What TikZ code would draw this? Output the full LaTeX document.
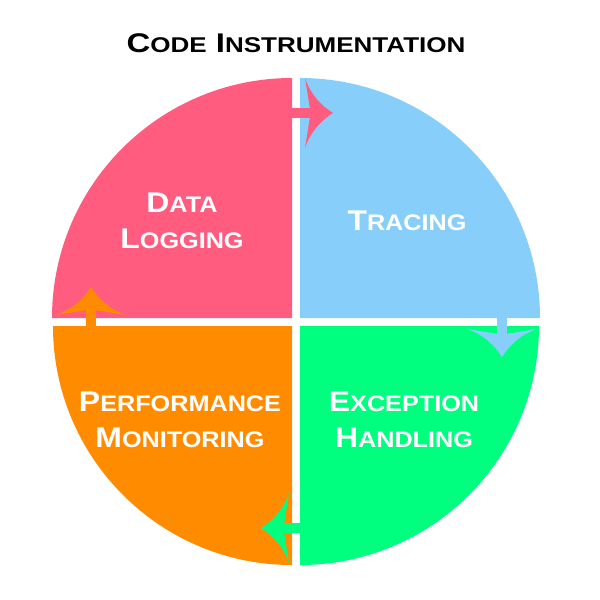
\documentclass[tikz,border=0pt]{standalone}
\usepackage{fontspec}
\usepackage{tikz}
\usetikzlibrary{arrows.meta}
\newfontfamily\diagfont{Liberation Sans}[FakeStretch=1.12]
\newfontfamily\titlefont{Liberation Sans}[FakeStretch=1.22]
\definecolor{pinkq}{HTML}{FF5C80}
\definecolor{blueq}{HTML}{87CEFA}
\definecolor{greenq}{HTML}{00FF7F}
\definecolor{orangeq}{HTML}{FF8C00}
\makeatletter
\newcommand\scword[2]{#1{\fontsize{\fpeval{0.79*\f@size}}{0}\selectfont #2}}
\makeatother
% swept head with hollow sides
\pgfdeclarearrow{
  name = Swoop,
  defaults = {length=28pt, width=70pt},
  setup code = {
    \pgfarrowssettipend{0pt}
    \pgfarrowssetbackend{-\pgfarrowlength}
    \pgfarrowssetlineend{-.7\pgfarrowlength}
    \pgfarrowssavethe\pgfarrowlength
    \pgfarrowssavethe\pgfarrowwidth
  },
  drawing code = {
    \pgfpathmoveto{\pgfqpoint{0pt}{0pt}}
    \pgfpathcurveto{\pgfqpoint{-.4\pgfarrowlength}{.1\pgfarrowwidth}}{\pgfqpoint{-.8\pgfarrowlength}{.26\pgfarrowwidth}}{\pgfqpoint{-\pgfarrowlength}{.5\pgfarrowwidth}}
    \pgfpathlineto{\pgfqpoint{-.8\pgfarrowlength}{0pt}}
    \pgfpathlineto{\pgfqpoint{-\pgfarrowlength}{-.5\pgfarrowwidth}}
    \pgfpathcurveto{\pgfqpoint{-.8\pgfarrowlength}{-.26\pgfarrowwidth}}{\pgfqpoint{-.4\pgfarrowlength}{-.1\pgfarrowwidth}}{\pgfqpoint{0pt}{0pt}}
    \pgfpathclose
    \pgfusepathqfill
  },
  parameters = {\the\pgfarrowlength,\the\pgfarrowwidth},
}
\tikzset{
  lbl/.style = {text=white, align=center, font=\diagfont\bfseries\fontsize{28.5}{36}\selectfont},
  flow/.style = {line width=10pt, -{Swoop}},
}

\begin{document}
\begin{tikzpicture}[yscale=-1]
			\useasboundingbox (0pt,0pt) rectangle (600pt,600pt);
			\node (title) at (296pt,43pt) {\titlefont\bfseries\fontsize{27}{30}\selectfont\scword{C}{ODE} \scword{I}{NSTRUMENTATION}};
			% quarters
			\fill[pinkq] (292pt,318pt) -- ++(-240pt,0pt) arc[start angle=180, end angle=270, radius=240pt] -- cycle;
			\fill[blueq] (300pt,318pt) -- ++(0pt,-240pt) arc[start angle=270, end angle=360, radius=240pt] -- cycle;
			\fill[greenq] (300pt,326pt) -- ++(239pt,0pt) arc[start angle=0, end angle=90, radius=239pt] -- cycle;
			\fill[orangeq] (292pt,326pt) -- ++(0pt,239pt) arc[start angle=90, end angle=180, radius=239pt] -- cycle;
			% labels
			\node[lbl] (logging) at (182pt,221pt) {\scword{D}{ATA}\\\scword{L}{OGGING}};
			\node[lbl] (tracing) at (407pt,221pt) {\scword{T}{RACING}};
			\node[lbl] (exception) at (404pt,420pt) {\scword{E}{XCEPTION}\\\scword{H}{ANDLING}};
			\node[lbl] (performance) at (180pt,420pt) {\scword{P}{ERFORMANCE}\\\scword{M}{ONITORING}};
			% arrows
			\coordinate (p1) at (284pt,113pt);
			\coordinate (p2) at (333pt,113pt);
			\coordinate (b1) at (502pt,310pt);
			\coordinate (b2) at (502pt,357pt);
			\coordinate (g1) at (308pt,528pt);
			\coordinate (g2) at (261pt,528pt);
			\coordinate (o1) at (91pt,334pt);
			\coordinate (o2) at (91pt,287pt);
			\draw[flow, pinkq] (p1) -- (p2);
			\draw[flow, blueq] (b1) -- (b2);
			\draw[flow, greenq] (g1) -- (g2);
			\draw[flow, orangeq] (o1) -- (o2);
\end{tikzpicture}
\end{document}
